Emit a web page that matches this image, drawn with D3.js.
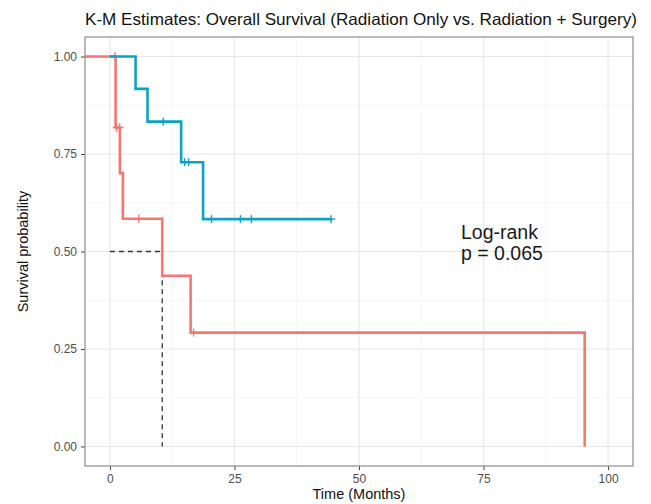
<!DOCTYPE html>
<html>
<head>
<meta charset="utf-8">
<script src="https://cdn.jsdelivr.net/npm/d3@7"></script>
<style>
  body { margin: 0; background: #fff; }
  text { font-family: "Liberation Sans", Arial, sans-serif; }
</style>
</head>
<body>
<div id="km"></div>
<script>
// K-M curves, values
var redTimes = [-5, 1.14, 2.0, 2.6, 10.5, 16.2, 95.3];
var redSurv  = [1, 0.818, 0.701, 0.584, 0.438, 0.292, 0];
var redCensor = [1.0, 1.35, 1.95, 5.8, 16.8];

var blueTimes = [0, 5.15, 7.55, 14.3, 18.7, 44.4];
var blueSurv  = [1, 0.917, 0.833, 0.729, 0.583, 0.583];
var blueCensor = [10.7, 15.0, 15.8, 20.4, 26.2, 28.4, 44.4];

var medianTime = 10.5;
var xTicks = [0, 25, 50, 75, 100];
var yTicks = [0, 0.25, 0.5, 0.75, 1];

var W = 651, H = 504;
var margin = {top: 37, right: 18, bottom: 38, left: 85},
    width = W - margin.left - margin.right,
    height = H - margin.top - margin.bottom;

var svg = d3.select("#km")
  .append("svg")
    .attr("width", W)
    .attr("height", H);

var g = svg.append("g")
    .attr("transform", "translate(" + margin.left + "," + margin.top + ")");

var x = d3.scaleLinear().domain([-5, 105]).range([0, width]);
var y = d3.scaleLinear().domain([-0.05, 1.05]).range([height, 0]);

// grid, minor then major
var xMinor = [-12.5, 12.5, 37.5, 62.5, 87.5].filter(function(d){ return d > -5; });
var yMinor = [0.125, 0.375, 0.625, 0.875];
g.selectAll(".gxm").data(xMinor).enter().append("line")
  .attr("x1", function(d){ return x(d); }).attr("x2", function(d){ return x(d); })
  .attr("y1", 0).attr("y2", height)
  .attr("stroke", "#f0f0f0").attr("stroke-width", 0.7);
g.selectAll(".gym").data(yMinor).enter().append("line")
  .attr("y1", function(d){ return y(d); }).attr("y2", function(d){ return y(d); })
  .attr("x1", 0).attr("x2", width)
  .attr("stroke", "#f0f0f0").attr("stroke-width", 0.7);
g.selectAll(".gx").data(xTicks).enter().append("line")
  .attr("x1", function(d){ return x(d); }).attr("x2", function(d){ return x(d); })
  .attr("y1", 0).attr("y2", height)
  .attr("stroke", "#e6e6e6").attr("stroke-width", 1.1);
g.selectAll(".gy").data(yTicks).enter().append("line")
  .attr("y1", function(d){ return y(d); }).attr("y2", function(d){ return y(d); })
  .attr("x1", 0).attr("x2", width)
  .attr("stroke", "#e6e6e6").attr("stroke-width", 1.1);

// axes
var xAxis = g.append("g")
  .attr("transform", "translate(0," + height + ")")
  .call(d3.axisBottom(x).tickValues(xTicks).tickSize(4).tickPadding(4).tickFormat(d3.format("d")));
var yAxis = g.append("g")
  .call(d3.axisLeft(y).tickValues(yTicks).tickSize(4).tickPadding(4).tickFormat(d3.format(".2f")));
[xAxis, yAxis].forEach(function(a){
  a.select(".domain").remove();
  a.selectAll("line").attr("stroke", "#444");
  a.selectAll("text").attr("fill", "#4d4d4d").style("font-size", "12px")
    .style("font-family", "'Liberation Sans', Arial, sans-serif");
});

// median lines
g.append("path")
  .attr("d", "M" + x(0) + "," + y(0.5) + "H" + x(medianTime) + "V" + y(0))
  .attr("fill", "none").attr("stroke", "#333").attr("stroke-width", 1.3)
  .attr("stroke-dasharray", "5,4");

var line = d3.line().curve(d3.curveStepAfter)
  .x(function(d){ return x(d[0]); })
  .y(function(d){ return y(d[1]); });

function survAt(times, surv, t) {
  var i = d3.bisectRight(times, t) - 1;
  return surv[Math.max(0, i)];
}

function drawCurve(times, surv, censor, color) {
  g.append("path")
    .datum(d3.zip(times, surv))
    .attr("d", line)
    .attr("fill", "none")
    .attr("stroke", color)
    .attr("stroke-width", 2.6);
  var cg = g.selectAll(null).data(censor).enter().append("g")
    .attr("transform", function(d){ return "translate(" + x(d) + "," + y(survAt(times, surv, d)) + ")"; });
  cg.append("line").attr("x1", -4).attr("x2", 4).attr("y1", 0).attr("y2", 0)
    .attr("stroke", color).attr("stroke-width", 1.4);
  cg.append("line").attr("x1", 0).attr("x2", 0).attr("y1", -4).attr("y2", 4)
    .attr("stroke", color).attr("stroke-width", 1.4);
}

drawCurve(redTimes, redSurv, redCensor, "#F8766D");
drawCurve(blueTimes, blueSurv, blueCensor, "#0CA3C4");

// panel border
g.append("rect")
  .attr("width", width).attr("height", height)
  .attr("fill", "none").attr("stroke", "#8c8c8c").attr("stroke-width", 1.2);

// annotation
var ann = g.append("text")
  .attr("x", 461 - margin.left)
  .attr("y", 239 - margin.top)
  .style("font-size", "19.5px").attr("fill", "#1a1a1a");
ann.append("tspan").text("Log-rank");
ann.append("tspan").attr("x", 461 - margin.left).attr("dy", 21).text("p = 0.065");

// title
var title = svg.append("text")
  .attr("x", margin.left)
  .attr("y", 25)
  .style("font-size", "16px")
  .attr("fill", "#111")
  .text("K-M Estimates: Overall Survival (Radiation Only vs. Radiation + Surgery)");
var tw = title.node().getComputedTextLength();
title.style("font-size", (16 * 552 / tw) + "px");

// axis titles
svg.append("text")
  .attr("x", margin.left + width / 2)
  .attr("y", 499)
  .attr("text-anchor", "middle")
  .style("font-size", "14.5px")
  .attr("fill", "#111")
  .text("Time (Months)");

svg.append("text")
  .attr("transform", "translate(28," + (margin.top + height / 2) + ") rotate(-90)")
  .attr("text-anchor", "middle")
  .style("font-size", "14.5px")
  .attr("fill", "#111")
  .text("Survival probability");
</script>
</body>
</html>
